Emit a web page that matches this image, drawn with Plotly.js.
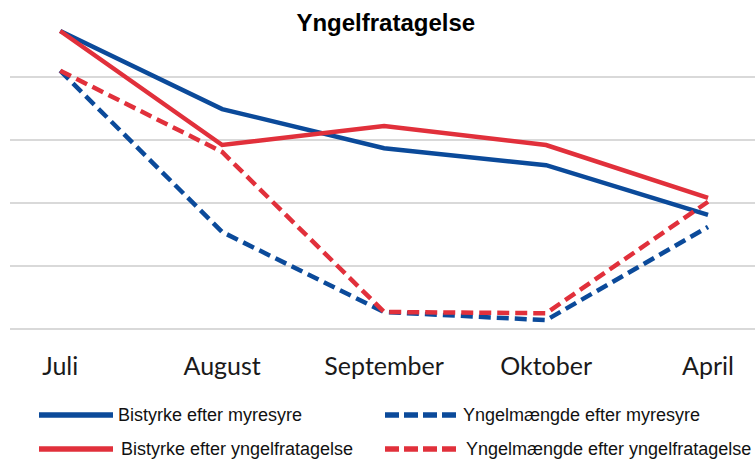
<!DOCTYPE html>
<html>
<head>
<meta charset="utf-8">
<script src="https://cdn.plot.ly/plotly-3.0.1.min.js"></script>
<style>html,body{margin:0;padding:0;background:#fff}#chart{width:755px;height:460px}</style>
</head>
<body>
<div id="chart"></div>
<script>
const months = ["Juli", "August", "September", "Oktober", "April"];
const bistyrkeMyresyre = [4.73, 3.49, 2.87, 2.60, 1.81];
const yngelMyresyre = [4.10, 1.54, 0.27, 0.14, 1.62];
const bistyrkeYngelfrat = [4.73, 2.92, 3.22, 2.92, 2.08];
const yngelYngelfrat = [4.10, 2.81, 0.27, 0.25, 2.02];
const seriesNames = [
  "Bistyrke efter myresyre",
  "Yngelmængde efter myresyre",
  "Bistyrke efter yngelfratagelse",
  "Yngelmængde efter yngelfratagelse"
];
const title = "Yngelfratagelse";

const BLUE = "#0b4a9a", RED = "#e1303b";
const DASH = "12px,6px";
const styles = [
  {color: BLUE, dash: "solid"},
  {color: BLUE, dash: DASH},
  {color: RED, dash: "solid"},
  {color: RED, dash: DASH}
];
const values = [bistyrkeMyresyre, yngelMyresyre, bistyrkeYngelfrat, yngelYngelfrat];

const traces = values.map((v, i) => ({
  type: "scatter", mode: "lines", x: months, y: v, name: seriesNames[i],
  line: {color: styles[i].color, width: 4.5, dash: styles[i].dash},
  showlegend: false, hoverinfo: "skip"
}));

// plot area geometry (px) for manual legend placement
const L = 10, W = 745, T = 14, H = 315;
const px2x = p => (p - L) / W;
const py2y = p => (T + H - p) / H;

const legendPos = [
  {x0: 39, x1: 113, tx: 116, y: 415},
  {x0: 385, x1: 457, tx: 461, y: 415},
  {x0: 39, x1: 113, tx: 119, y: 449},
  {x0: 385, x1: 457, tx: 464, y: 449}
];
const shapes = legendPos.map((p, i) => ({
  type: "line", xref: "paper", yref: "paper",
  x0: px2x(p.x0), x1: px2x(p.x1), y0: py2y(p.y), y1: py2y(p.y),
  line: {color: styles[i].color, width: 5.5, dash: styles[i].dash === "solid" ? "solid" : "14px,5px"}
}));
const annotations = legendPos.map((p, i) => ({
  xref: "paper", yref: "paper", x: px2x(p.tx), y: py2y(p.y),
  xanchor: "left", yanchor: "middle", showarrow: false, text: seriesNames[i],
  font: {family: "Liberation Sans, Arial, sans-serif", size: 18, color: "#111"}
}));

const layout = {
  width: 755, height: 460,
  margin: {l: L, r: 755 - L - W, t: T, b: 460 - T - H},
  paper_bgcolor: "#fff", plot_bgcolor: "#fff",
  title: {
    text: "<b>" + title + "</b>", x: 0.511, xref: "container", xanchor: "center",
    y: 1 - 23/460, yref: "container", yanchor: "middle",
    font: {family: "Liberation Sans, Arial, sans-serif", size: 24, color: "#000"}
  },
  xaxis: {
    type: "category", range: [-0.31, 4.29], showgrid: false, zeroline: false,
    showline: false, ticks: "", ticklabelstandoff: 20,
    tickfont: {family: "Lato, sans-serif", size: 25, color: "#1a1a1a"}
  },
  yaxis: {
    range: [0, 5], tickvals: [0, 1, 2, 3, 4], showticklabels: false,
    showgrid: true, gridcolor: "#d9d9d9", gridwidth: 2,
    zeroline: true, zerolinecolor: "#d9d9d9", zerolinewidth: 2, showline: false
  },
  shapes: shapes,
  annotations: annotations,
  showlegend: false
};

Plotly.newPlot("chart", traces, layout, {displayModeBar: false, staticPlot: true});
</script>
</body>
</html>
